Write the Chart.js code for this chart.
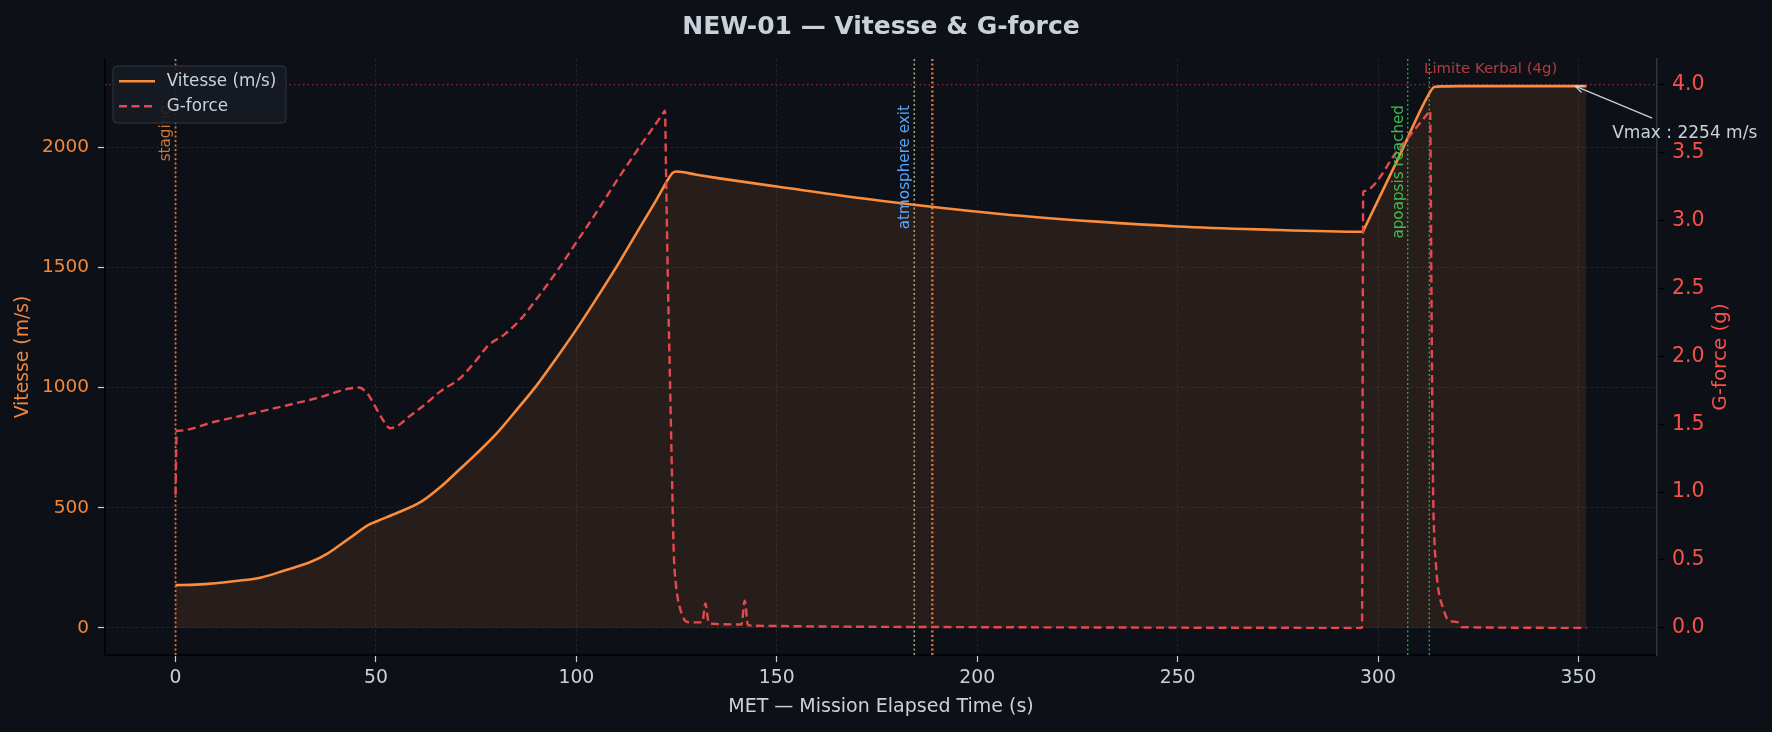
<!DOCTYPE html>
<html>
<head>
<meta charset="utf-8">
<title>NEW-01 — Vitesse & G-force</title>
<script src="https://cdn.jsdelivr.net/npm/chart.js@4.4.1/dist/chart.umd.min.js"></script>
<style>
  html, body { margin: 0; padding: 0; background: #0d1117; }
  canvas { display: block; }
</style>
</head>
<body>
<canvas id="flightChart" width="1772" height="732"></canvas>
<script>
// --- data ---
const speedTimes = [0, 5, 10, 15, 21.4, 27, 33.8, 38, 42.1, 45, 47.9, 50.4, 55.5, 61.2, 66, 71.1, 75, 80, 85, 90, 95, 100, 105, 110, 115.6, 120, 123.2, 124, 125, 130, 135.7, 150, 175.9, 205.8, 230, 250, 270, 296.2, 296.5, 305, 313.2, 314, 316, 320, 335, 352];
const speedValues = [178, 180, 186, 195, 210, 238, 275, 310, 358, 392, 427, 445, 480, 524, 585, 663, 724, 807, 905, 1007, 1122, 1242, 1370, 1502, 1659, 1782, 1875, 1893, 1899, 1885, 1870, 1836, 1777, 1722, 1690, 1670, 1658, 1648, 1658, 1952, 2235, 2250, 2253, 2254, 2254, 2254];

const gTimes = [0, 0.3, 0.6, 10, 21.4, 35, 45.8, 48, 50, 52, 53.5, 55.5, 58, 62, 66, 71, 75, 78, 82, 86, 90, 95, 100, 105, 110, 115, 120, 121.8, 122.1, 122.4, 122.8, 123.3, 123.8, 124.3, 124.8, 125.4, 125.9, 126.6, 127.2, 128.5, 131.4, 132.2, 133, 134, 141.2, 142, 142.8, 145, 160, 200, 296, 296.3, 296.5, 305, 312.7, 313, 313.3, 313.7, 314.1, 314.4, 314.8, 315.3, 316.1, 317.2, 318.2, 319.2, 320, 320.9, 352];
const gValues = [0.98, 1.45, 1.452, 1.52, 1.595, 1.69, 1.77, 1.72, 1.62, 1.52, 1.47, 1.49, 1.55, 1.64, 1.74, 1.84, 1.97, 2.08, 2.16, 2.27, 2.42, 2.62, 2.84, 3.06, 3.29, 3.51, 3.72, 3.797, 3.81, 3.3, 2.6, 1.9, 1.2, 0.55, 0.33, 0.2, 0.14, 0.08, 0.05, 0.04, 0.04, 0.18, 0.04, 0.03, 0.025, 0.2, 0.02, 0.015, 0.01, 0.005, 0, 3.21, 3.217, 3.52, 3.799, 3.81, 2.6, 1.1, 0.62, 0.49, 0.34, 0.24, 0.156, 0.07, 0.05, 0.045, 0.04, 0.005, 0];

const xTicks = [0, 50, 100, 150, 200, 250, 300, 350];
const speedTicks = [0, 500, 1000, 1500, 2000];
const gTicks = [0, 0.5, 1, 1.5, 2, 2.5, 3, 3.5, 4];

const eventTimes = [0, 184.3, 188.8, 307.4, 312.8];
const eventKinds = ['staging', 'atmosphere', 'staging', 'apoapsis', 'apoapsis'];
const eventLabels = ['staging', 'atmosphere exit', '', 'apoapsis reached', ''];

const gLimit = 4.0;
const vmaxTime = 349.2;
const vmax = 2254;

// --- styles ---
const BG = '#0d1117';
const TXT = '#c9d1d9';
const ORANGE = '#fb8c3c';
const RED = '#e5484d';
const FONT = "'DejaVu Sans', sans-serif";

const eventStyles = {
  staging:    { line: '#e0703a', text: '#c8773a', width: 1.8, dash: [2, 2.5] },
  atmosphere: { line: '#a3a37e', text: '#58a6ff', width: 1.6, dash: [2, 2.5] },
  apoapsis:   { line: '#2f9e44', text: '#3fb950', width: 1.4, dash: [2, 2.5] }
};

const toPoints = (xs, ys) => xs.map((t, i) => ({ x: t, y: ys[i] }));

const flightDecor = {
  id: 'flightDecor',
  beforeDraw(chart) {
    const { ctx, width, height } = chart;
    ctx.save();
    ctx.fillStyle = BG;
    ctx.fillRect(0, 0, width, height);
    ctx.restore();
  },
  beforeDatasetsDraw(chart) {
    const { ctx, chartArea: a, scales: { x, y2 } } = chart;
    ctx.save();
    // Kerbal 4 g limit
    const yl = y2.getPixelForValue(gLimit);
    ctx.strokeStyle = '#a8383a';
    ctx.lineWidth = 1;
    ctx.setLineDash([1.5, 3]);
    ctx.beginPath(); ctx.moveTo(a.left, yl); ctx.lineTo(a.right, yl); ctx.stroke();

    // mission events
    eventTimes.forEach((t, i) => {
      const st = eventStyles[eventKinds[i]];
      const px = x.getPixelForValue(t);
      ctx.strokeStyle = st.line;
      ctx.lineWidth = eventLabels[i] || eventKinds[i] !== 'staging' ? st.width : 2.4;
      ctx.setLineDash(st.dash);
      ctx.beginPath(); ctx.moveTo(px, a.top); ctx.lineTo(px, a.bottom); ctx.stroke();
    });
    ctx.restore();
  },
  afterDatasetsDraw(chart) {
    const { ctx, chartArea: a, scales: { x, y, y2 } } = chart;
    ctx.save();
    // event labels, vertical, hanging from the top
    ctx.font = `15.2px ${FONT}`;
    eventTimes.forEach((t, i) => {
      if (!eventLabels[i]) return;
      const px = x.getPixelForValue(t);
      ctx.save();
      ctx.translate(px - 1.5, a.top + 46);
      ctx.rotate(-Math.PI / 2);
      ctx.fillStyle = eventStyles[eventKinds[i]].text;
      ctx.textAlign = 'right';
      ctx.textBaseline = 'bottom';
      ctx.fillText(eventLabels[i], 0, 0);
      ctx.restore();
    });

    // limit label
    ctx.fillStyle = '#b23c3c';
    ctx.font = `14.9px ${FONT}`;
    ctx.textAlign = 'left';
    ctx.textBaseline = 'middle';
    ctx.fillText('Limite Kerbal (4g)', x.getPixelForValue(311.5), y2.getPixelForValue(gLimit) - 15.5);

    // Vmax annotation
    const tx = x.getPixelForValue(vmaxTime), ty = y.getPixelForValue(vmax);
    const sx = tx + 77, sy = ty + 32;
    ctx.strokeStyle = TXT;
    ctx.lineWidth = 1.2;
    ctx.setLineDash([]);
    ctx.beginPath(); ctx.moveTo(sx, sy); ctx.lineTo(tx, ty); ctx.stroke();
    const ang = Math.atan2(sy - ty, sx - tx);
    ctx.beginPath();
    ctx.moveTo(tx + 9 * Math.cos(ang + 0.4), ty + 9 * Math.sin(ang + 0.4));
    ctx.lineTo(tx, ty);
    ctx.lineTo(tx + 9 * Math.cos(ang - 0.4), ty + 9 * Math.sin(ang - 0.4));
    ctx.stroke();
    ctx.fillStyle = TXT;
    ctx.font = `17px ${FONT}`;
    ctx.textAlign = 'left';
    ctx.textBaseline = 'middle';
    ctx.fillText(`Vmax : ${vmax} m/s`, tx + 37, ty + 47);
    ctx.restore();
  },
  afterDraw(chart) {
    const { ctx, chartArea: a } = chart;
    ctx.save();
    // title
    ctx.fillStyle = TXT;
    ctx.font = `bold 25px ${FONT}`;
    ctx.textAlign = 'center';
    ctx.textBaseline = 'alphabetic';
    ctx.fillText('NEW-01 — Vitesse & G-force', (a.left + a.right) / 2, 34);

    // right axis title (reads bottom to top)
    ctx.save();
    ctx.translate(1721, (a.top + a.bottom) / 2);
    ctx.rotate(-Math.PI / 2);
    ctx.fillStyle = '#f85149';
    ctx.font = `20px ${FONT}`;
    ctx.textAlign = 'center';
    ctx.textBaseline = 'middle';
    ctx.fillText('G-force (g)', 0, 0);
    ctx.restore();

    // legend
    const bx = 113, by = 66, bw = 173, bh = 57;
    ctx.fillStyle = 'rgba(22, 27, 34, 0.9)';
    ctx.strokeStyle = '#30363d';
    ctx.lineWidth = 1;
    ctx.beginPath();
    ctx.roundRect(bx, by, bw, bh, 4);
    ctx.fill(); ctx.stroke();
    chart.data.datasets.forEach((ds, i) => {
      const ly = 81.3 + i * 25;
      ctx.strokeStyle = ds.borderColor;
      ctx.lineWidth = ds.borderWidth;
      ctx.setLineDash(ds.borderDash || []);
      ctx.beginPath(); ctx.moveTo(119, ly); ctx.lineTo(155, ly); ctx.stroke();
      ctx.setLineDash([]);
      ctx.fillStyle = TXT;
      ctx.font = `16.8px ${FONT}`;
      ctx.textAlign = 'left';
      ctx.textBaseline = 'middle';
      ctx.fillText(ds.label, 166.7, ly);
    });
    ctx.restore();
  }
};

const fixedTicks = list => scale => { scale.ticks = list.map(v => ({ value: v })); };
const GRID = '#1d2229';

new Chart(document.getElementById('flightChart'), {
  type: 'line',
  data: {
    datasets: [
      {
        label: 'Vitesse (m/s)',
        data: toPoints(speedTimes, speedValues),
        yAxisID: 'y',
        borderColor: ORANGE,
        borderWidth: 2.6,
        backgroundColor: 'rgba(251, 140, 60, 0.11)',
        fill: 'origin',
        pointRadius: 0,
        cubicInterpolationMode: 'monotone',
        order: 2
      },
      {
        label: 'G-force',
        data: toPoints(gTimes, gValues),
        yAxisID: 'y2',
        borderColor: RED,
        borderWidth: 2.4,
        borderDash: [8, 4.5],
        fill: false,
        pointRadius: 0,
        cubicInterpolationMode: 'monotone',
        order: 1
      }
    ]
  },
  options: {
    responsive: false,
    devicePixelRatio: 1,
    animation: false,
    layout: { padding: { top: 59, left: 0, right: 0, bottom: 0 } },
    plugins: { legend: { display: false }, title: { display: false }, tooltip: { enabled: false } },
    scales: {
      x: {
        type: 'linear',
        min: -17.6,
        max: 369.6,
        afterBuildTicks: fixedTicks(xTicks),
        afterFit: s => { s.height = 77; },
        grid: { color: GRID, lineWidth: 1, tickLength: 7, tickColor: '#c9d1d9', tickWidth: 1.2 },
        border: { color: '#010409', width: 2, dash: [3, 2] },
        ticks: { color: TXT, font: { family: FONT, size: 18.8 }, padding: 5, maxRotation: 0, callback: v => String(v) },
        title: { display: true, text: 'MET — Mission Elapsed Time (s)', color: TXT, font: { family: FONT, size: 19 }, padding: { bottom: 14 } }
      },
      y: {
        position: 'left',
        min: -112.7,
        max: 2366.7,
        afterBuildTicks: fixedTicks(speedTicks),
        afterFit: s => { s.width = 105; },
        grid: { color: GRID, lineWidth: 1, tickLength: 7, tickColor: '#c9d1d9', tickWidth: 1.2 },
        border: { color: '#010409', width: 2, dash: [3, 2] },
        ticks: { color: '#f0883e', font: { family: FONT, size: 18.5 }, padding: 9, callback: v => String(v) },
        title: { display: true, text: 'Vitesse (m/s)', color: '#f0883e', font: { family: FONT, size: 18.8 }, padding: { top: 12 } }
      },
      y2: {
        position: 'right',
        min: -0.2,
        max: 4.19,
        afterBuildTicks: fixedTicks(gTicks),
        afterFit: s => { s.width = 115; },
        grid: { drawOnChartArea: false, tickLength: 7, tickColor: '#000000', tickWidth: 1.2 },
        border: { color: '#30363d', width: 1.5 },
        ticks: { color: '#f85149', font: { family: FONT, size: 20.5 }, padding: 8, callback: v => v.toFixed(1) }
      }
    }
  },
  plugins: [flightDecor]
});
</script>
</body>
</html>
